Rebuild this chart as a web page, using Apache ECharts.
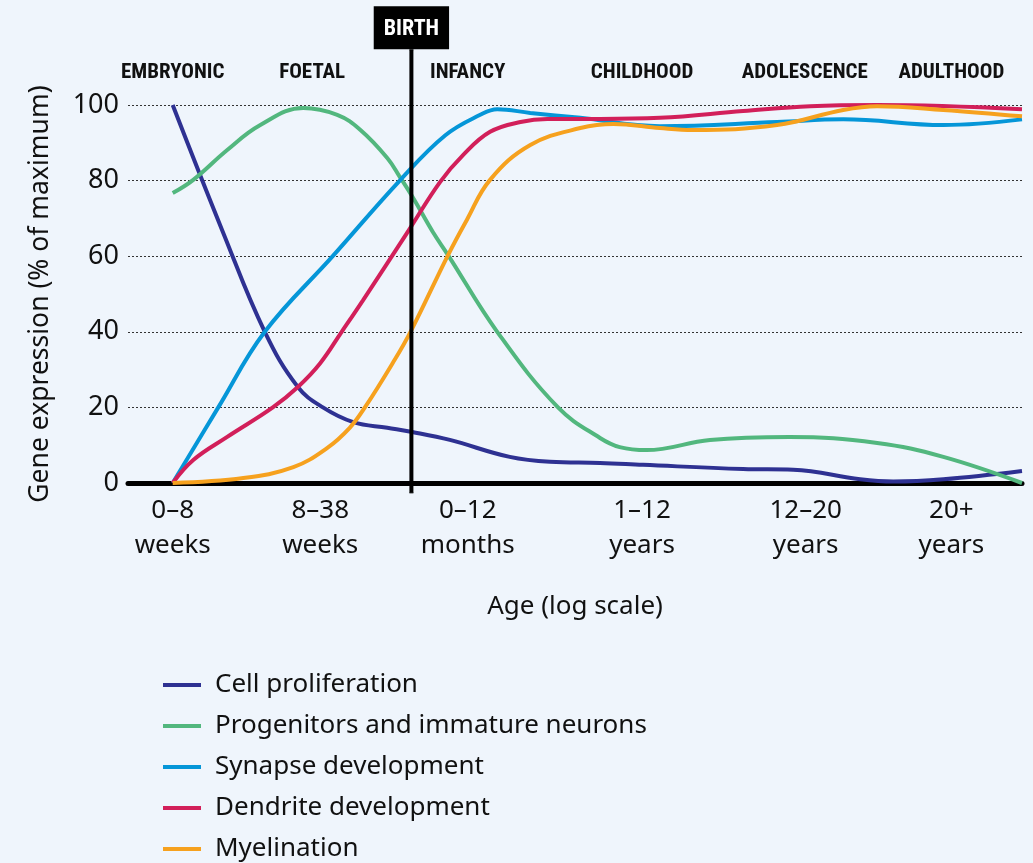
<!DOCTYPE html>
<html>
<head>
<meta charset="utf-8">
<script src="https://cdn.jsdelivr.net/npm/echarts@6/dist/echarts.min.js"></script>
<style>
  html, body { margin: 0; padding: 0; background: #eff5fc; }
  #main { width: 1033px; height: 863px; }
</style>
</head>
<body>
<div id="main"></div>
<script>
// x is a position along the (log) age axis, 0..100
var ageTicks = [5.0, 21.5, 38.0, 57.5, 75.8, 92.1];
var ageLabels = ['0\u20138\nweeks', '8\u201338\nweeks', '0\u201312\nmonths', '1\u201312\nyears', '12\u201320\nyears', '20+\nyears'];
var phaseTicks = [5.0, 20.6, 38.0, 57.5, 75.7, 92.1];
var phaseLabels = ['EMBRYONIC', 'FOETAL', 'INFANCY', 'CHILDHOOD', 'ADOLESCENCE', 'ADULTHOOD'];
var birthX = 31.7;
var birthSpan = [-2.6, 114.6];

var seriesNames = ['Cell proliferation', 'Progenitors and immature neurons', 'Synapse development', 'Dendrite development', 'Myelination'];
var seriesColors = ['#2e3192', '#52b77e', '#0596d8', '#d21f5a', '#f6a11e'];

var cellProliferation = [[5.0,100],[10.6,66.5],[15.3,40],[19.0,25.4],[21.8,20],[25.2,16.1],[29.0,14.6],[31.8,13.5],[36.0,11.4],[42.7,6.9],[47.2,5.6],[52.8,5.3],[57.6,4.8],[68.8,3.7],[74.4,3.5],[81.9,1],[85.6,0.4],[91.2,1],[100,3.2]];
var progenitors = [[5.0,76.7],[7.3,80.2],[11.1,88.1],[14.8,94.7],[19.6,99.2],[23.4,97.4],[26.0,93.4],[29.0,86],[30.4,81],[31.9,75.4],[34.1,66.4],[35.8,60.3],[41.3,40],[48.1,20],[52.8,11.9],[55.0,9.5],[58.0,8.7],[65.1,11.4],[74.0,12.2],[83.8,10.6],[91.2,6.9],[100,0]];
var synapse = [[5.0,0],[10.1,20],[15.3,40],[22.9,60],[30.4,80],[35.5,92],[39.4,97.4],[41.3,98.9],[45.0,97.9],[50.6,96.6],[59.5,94.4],[72.6,95.5],[80.0,96.2],[91.2,94.7],[100,96.2]];
var dendrite = [[5.0,0],[7.3,6.1],[11.1,12.2],[16.2,20],[19.0,25.4],[21.5,31.7],[23.9,40],[26.3,48.4],[31.2,66.1],[34.9,79.6],[37.5,86.8],[40.5,92.9],[43.9,95.5],[46.9,96.3],[52.8,96.3],[59.5,96.6],[68.8,98.4],[76.3,99.7],[83.8,100],[100,98.9]];
var myelination = [[5.0,0],[12.9,1.3],[18.5,4.2],[22.3,9.3],[24.8,14.6],[26.5,20],[29.6,31.7],[31.6,40],[35.8,60.3],[37.9,69.6],[40.5,80.2],[45.0,89.4],[50.6,93.9],[54.3,95],[59.5,93.9],[63.2,93.4],[72.6,94.7],[80.0,98.7],[83.8,99.7],[91.2,98.7],[100,97]];

var allData = [cellProliferation, progenitors, synapse, dendrite, myelination];

var mainFont = '"Noto Sans", sans-serif';
var condFont = '"Roboto Condensed", "Open Sans Condensed", "Noto Sans Condensed", "DejaVu Sans Condensed", "Liberation Sans Narrow", Roboto, sans-serif';

var chart = echarts.init(document.getElementById('main'));

var series = [];
for (var i = 0; i < allData.length; i++) {
    series.push({
        name: seriesNames[i],
        type: 'line',
        data: allData[i],
        smooth: 0.4,
        symbol: 'none',
        clip: false,
        lineStyle: { color: seriesColors[i], width: 4 },
        itemStyle: { color: seriesColors[i] }
    });
}

// birth marker line
series.push({
    name: 'Birth',
    type: 'line',
    data: [
        [birthX, birthSpan[0]],
        { value: [birthX, birthSpan[1]], label: { show: true } }
    ],
    symbol: 'rect',
    symbolSize: [4, 1],
    showSymbol: true,
    clip: false,
    z: 10,
    lineStyle: { color: '#000', width: 4 },
    itemStyle: { color: '#000' },
    label: {
        show: false,
        position: 'top',
        distance: 0,
        formatter: 'BIRTH',
        backgroundColor: '#000',
        color: '#fff',
        fontFamily: condFont,
        fontWeight: 'bold',
        fontSize: 22,
        padding: [12, 10, 9, 10]
    }
});

var option = {
    backgroundColor: '#eff5fc',
    animation: false,
    grid: { left: 128, right: 11, top: 105, bottom: 380 },
    legend: {
        data: seriesNames,
        orient: 'vertical',
        left: 163,
        top: 672,
        height: 191,
        padding: 0,
        icon: 'rect',
        itemWidth: 38,
        itemHeight: 4,
        itemGap: 15,
        textStyle: { fontFamily: mainFont, fontSize: 26, color: '#111', padding: [0, 0, 0, 9] }
    },
    xAxis: [{
        type: 'value',
        min: 0,
        max: 100,
        position: 'bottom',
        name: 'Age (log scale)',
        nameLocation: 'middle',
        nameGap: 111,
        nameTextStyle: { fontFamily: mainFont, fontSize: 26, color: '#111' },
        axisLine: { show: true, onZero: false, lineStyle: { color: '#000', width: 5 } },
        axisTick: { show: false },
        splitLine: { show: false },
        axisLabel: {
            customValues: ageTicks,
            formatter: function (v) {
                var k = ageTicks.indexOf(v);
                return k >= 0 ? ageLabels[k] : '';
            },
            fontFamily: mainFont,
            fontSize: 26,
            lineHeight: 35,
            color: '#111',
            margin: 10
        }
    }, {
        type: 'value',
        min: 0,
        max: 100,
        position: 'top',
        axisLine: { show: false },
        axisTick: { show: false },
        splitLine: { show: false },
        axisLabel: {
            customValues: phaseTicks,
            formatter: function (v) {
                var k = phaseTicks.indexOf(v);
                return k >= 0 ? phaseLabels[k] : '';
            },
            fontFamily: condFont,
            fontWeight: 'bold',
            fontSize: 21,
            color: '#111',
            margin: 22
        }
    }],
    yAxis: {
        type: 'value',
        min: 0,
        max: 100,
        interval: 20,
        name: 'Gene expression (% of maximum)',
        nameLocation: 'middle',
        nameGap: 74,
        nameTextStyle: { fontFamily: mainFont, fontSize: 26.5, color: '#111' },
        axisLine: { show: false },
        axisTick: { show: false },
        axisLabel: { fontFamily: mainFont, fontSize: 27, color: '#111', margin: 9 },
        splitLine: { show: true, lineStyle: { color: '#333', width: 1, type: [2, 2] } }
    },
    series: series
};

chart.setOption(option);
</script>
</body>
</html>
